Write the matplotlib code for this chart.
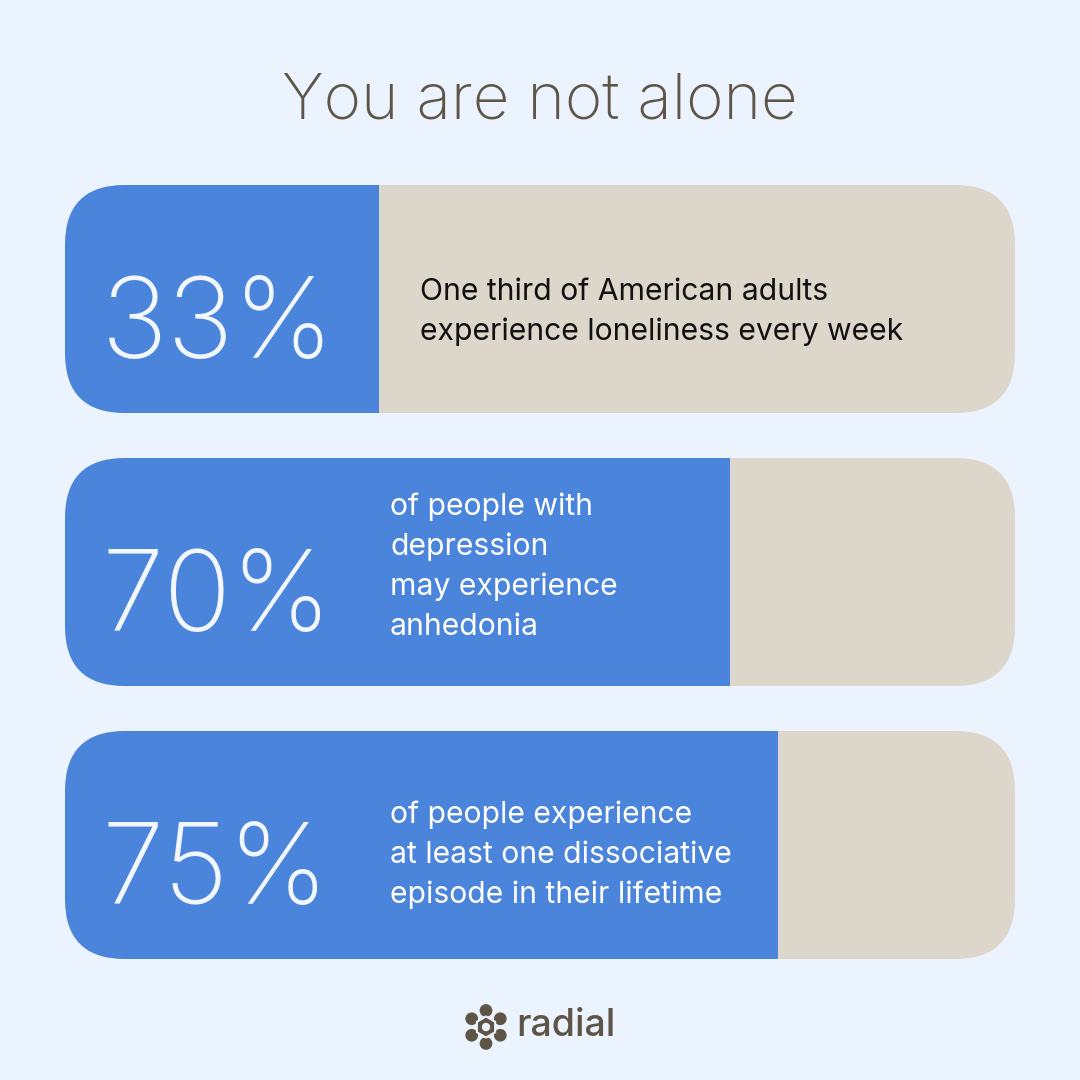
import matplotlib
matplotlib.use("Agg")
import matplotlib.pyplot as plt
from matplotlib.patches import FancyBboxPatch, Circle, RegularPolygon
import numpy as np

# ---- data ----
title = "You are not alone"
pct_values = [33, 70, 75]
pct_labels = ["33%", "70%", "75%"]
descriptions = [
    ["One third of American adults", "experience loneliness every week"],
    ["of people with", "depression", "may experience", "anhedonia"],
    ["of people experience", "at least one dissociative", "episode in their lifetime"],
]
brand = "radial"

# ---- style ----
BG = "#EBF3FE"
BLUE = "#4A84DB"
BEIGE = "#DDD6CA"
BROWN = "#5E5546"
FONT = ["Inter", "DejaVu Sans"]

W = H = 1080
fig = plt.figure(figsize=(10.8, 10.8), dpi=100, facecolor=BG)

# layout of the bar panel (pixels)
LEFT, RIGHT = 65, 1015
TOP, BOTTOM = 185, 959
BAR_H = 228
PITCH = 273
RADIUS = 60

n = len(pct_values)
half = BAR_H / PITCH / 2
bars_ax = fig.add_axes([LEFT / W, 1 - BOTTOM / H, (RIGHT - LEFT) / W, (BOTTOM - TOP) / H])
bars_ax.set_xlim(0, 100)
bars_ax.set_ylim(n - 1 + half, -half)
bars_ax.axis("off")
bars_ax.patch.set_alpha(0)
bars_ax.set_zorder(0)

# pixel-coordinate overlay axes (y measured from top)
bg = fig.add_axes([0, 0, 1, 1])
bg.set_xlim(0, W)
bg.set_ylim(H, 0)
bg.axis("off")
bg.patch.set_alpha(0)
bg.set_zorder(1)

ypos = np.arange(n)
centers_px = [TOP + BAR_H / 2 + i * PITCH for i in range(n)]

# rounded track shapes (pixel axes), used as clip paths
clips = []
for i in range(n):
    top = centers_px[i] - BAR_H / 2
    p = FancyBboxPatch((LEFT, top), RIGHT - LEFT, BAR_H,
                       boxstyle=f"round,pad=0,rounding_size={RADIUS}",
                       facecolor="none", edgecolor="none", transform=bg.transData)
    bg.add_patch(p)
    clips.append(p)

track = bars_ax.barh(ypos, [100] * n, height=2 * half, color=BEIGE, linewidth=0)
fill = bars_ax.barh(ypos, pct_values, height=2 * half, color=BLUE, linewidth=0)
for i in range(n):
    track[i].set_clip_path(clips[i])
    fill[i].set_clip_path(clips[i])

# title
bg.text(540, 118, title, ha="center", va="baseline", fontsize=46,
        fontweight="light", color=BROWN, family=FONT)

# percentage labels
for i, lab in enumerate(pct_labels):
    bg.text(101, centers_px[i] + 59, lab, ha="left", va="baseline", fontsize=81,
            fontweight="light", color="#F2F6FD", family=FONT)

# descriptions
desc_x = [420, 390, 390]
first_base = [1, -57, -22]
desc_col = ["#111111", "white", "white"]
for i, lines in enumerate(descriptions):
    for j, line in enumerate(lines):
        bg.text(desc_x[i], centers_px[i] + first_base[i] + 40 * j, line,
                ha="left", va="baseline", fontsize=21.7, color=desc_col[i],
                family=FONT)

# logo icon
cx, cy = 486, 1027
for ang in np.deg2rad([90, 30, -30, -90, -150, 150]):
    bg.add_patch(Circle((cx + 16.5 * np.cos(ang), cy - 16.5 * np.sin(ang)), 7.2,
                        facecolor=BROWN, edgecolor=BG, linewidth=1.2))
bg.add_patch(RegularPolygon((cx, cy), 6, radius=10.5, orientation=0,
                            facecolor=BROWN, edgecolor=BG, linewidth=1.5))
bg.add_patch(Circle((cx, cy), 4.2, facecolor=BG, edgecolor="none"))

bg.text(516, 1036, brand, ha="left", va="baseline", fontsize=27,
        fontweight="medium", color=BROWN, family=FONT)

fig.savefig("out.png", dpi=100, facecolor=BG)
